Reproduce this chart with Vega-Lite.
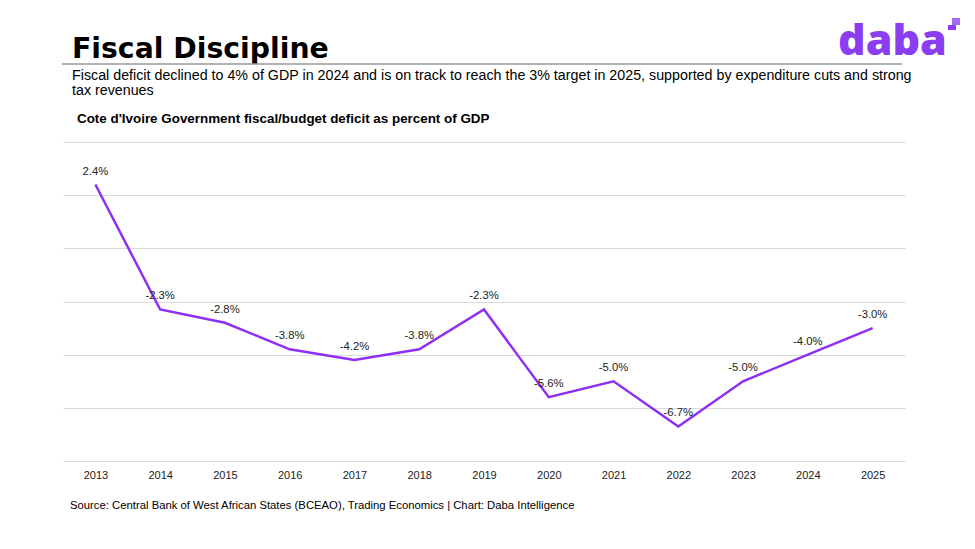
{
  "$schema": "https://vega.github.io/schema/vega-lite/v6.json",
  "width": 842,
  "height": 319,
  "autosize": "none",
  "padding": {"left": 63, "top": 142, "right": 70, "bottom": 88},
  "background": "white",
  "config": {"view": {"stroke": null}, "font": "Liberation Sans"},
  "data": {
    "values": [
      {"year": "2013", "value": 2.4, "label": "2.4%"},
      {"year": "2014", "value": -2.3, "label": "-2.3%"},
      {"year": "2015", "value": -2.8, "label": "-2.8%"},
      {"year": "2016", "value": -3.8, "label": "-3.8%"},
      {"year": "2017", "value": -4.2, "label": "-4.2%"},
      {"year": "2018", "value": -3.8, "label": "-3.8%"},
      {"year": "2019", "value": -2.3, "label": "-2.3%"},
      {"year": "2020", "value": -5.6, "label": "-5.6%"},
      {"year": "2021", "value": -5.0, "label": "-5.0%"},
      {"year": "2022", "value": -6.7, "label": "-6.7%"},
      {"year": "2023", "value": -5.0, "label": "-5.0%"},
      {"year": "2024", "value": -4.0, "label": "-4.0%"},
      {"year": "2025", "value": -3.0, "label": "-3.0%"}
    ]
  },
  "layer": [
    {
      "mark": {"type": "line", "color": "#8F2FF3", "strokeWidth": 2.5},
      "encoding": {
        "x": {"field": "year", "type": "ordinal", "scale": {"type": "point", "padding": 0.5},
          "axis": {"title": null, "labelAngle": 0, "ticks": false, "domain": false, "grid": false, "labelPadding": 8, "labelFontSize": 11, "labelColor": "#222222", "labelFont": "Liberation Sans"}},
        "y": {"field": "value", "type": "quantitative", "scale": {"domain": [-8, 4], "nice": false, "zero": false},
          "axis": {"values": [-8, -6, -4, -2, 0, 2, 4], "labels": false, "ticks": false, "domain": false, "title": null, "grid": true, "gridColor": "#d9d9d9", "gridWidth": 1}}
      }
    },
    {
      "mark": {"type": "text", "dy": -13, "fontSize": 11.3, "color": "#222222", "font": "Liberation Sans"},
      "encoding": {
        "x": {"field": "year", "type": "ordinal"},
        "y": {"field": "value", "type": "quantitative"},
        "text": {"field": "label"}
      }
    },
    {
      "data": {"values": [{}]},
      "mark": {"type": "text", "text": "Fiscal Discipline", "x": 9, "y": -84, "align": "left", "baseline": "alphabetic", "font": "DejaVu Sans", "fontWeight": "bold", "fontSize": 28.3, "color": "#000000"},
      "encoding": {}
    },
    {
      "data": {"values": [{}]},
      "mark": {"type": "rule", "color": "#9a9a9a", "strokeWidth": 1.5},
      "encoding": {"x": {"value": -1}, "x2": {"value": 839}, "y": {"value": -78}, "y2": {"value": -78}}
    },
    {
      "data": {"values": [{}]},
      "mark": {"type": "text", "text": ["Fiscal deficit declined to 4% of GDP in 2024 and is on track to reach the 3% target in 2025, supported by expenditure cuts and strong", "tax revenues"], "x": 9, "y": -73, "align": "left", "baseline": "top", "lineHeight": 15, "font": "Liberation Sans", "fontSize": 14.27, "color": "#000000"},
      "encoding": {}
    },
    {
      "data": {"values": [{}]},
      "mark": {"type": "text", "text": "Cote d'Ivoire Government fiscal/budget deficit as percent of GDP", "x": 14, "y": -23, "align": "left", "baseline": "middle", "font": "Liberation Sans", "fontWeight": "bold", "fontSize": 13.4, "color": "#000000"},
      "encoding": {}
    },
    {
      "data": {"values": [{}]},
      "mark": {"type": "text", "text": "Source: Central Bank of West African States (BCEAO), Trading Economics | Chart: Daba Intelligence", "x": 7, "y": 364, "align": "left", "baseline": "middle", "font": "Liberation Sans", "fontSize": 11.3, "color": "#000000"},
      "encoding": {}
    },
    {
      "data": {"values": [{}]},
      "mark": {"type": "text", "text": "daba", "x": 775, "y": -87, "align": "left", "baseline": "alphabetic", "font": "Open Sans", "fontWeight": 800, "fontSize": 43, "color": "#8B3DF2"},
      "encoding": {}
    },
    {
      "data": {"values": [{}]},
      "mark": {"type": "rect", "color": "#A36BF5"},
      "encoding": {"x": {"value": 889}, "x2": {"value": 897}, "y": {"value": -124}, "y2": {"value": -117}}
    },
    {
      "data": {"values": [{}]},
      "mark": {"type": "rect", "color": "#8B3DF2"},
      "encoding": {"x": {"value": 885}, "x2": {"value": 893}, "y": {"value": -117}, "y2": {"value": -112}}
    }
  ]
}
